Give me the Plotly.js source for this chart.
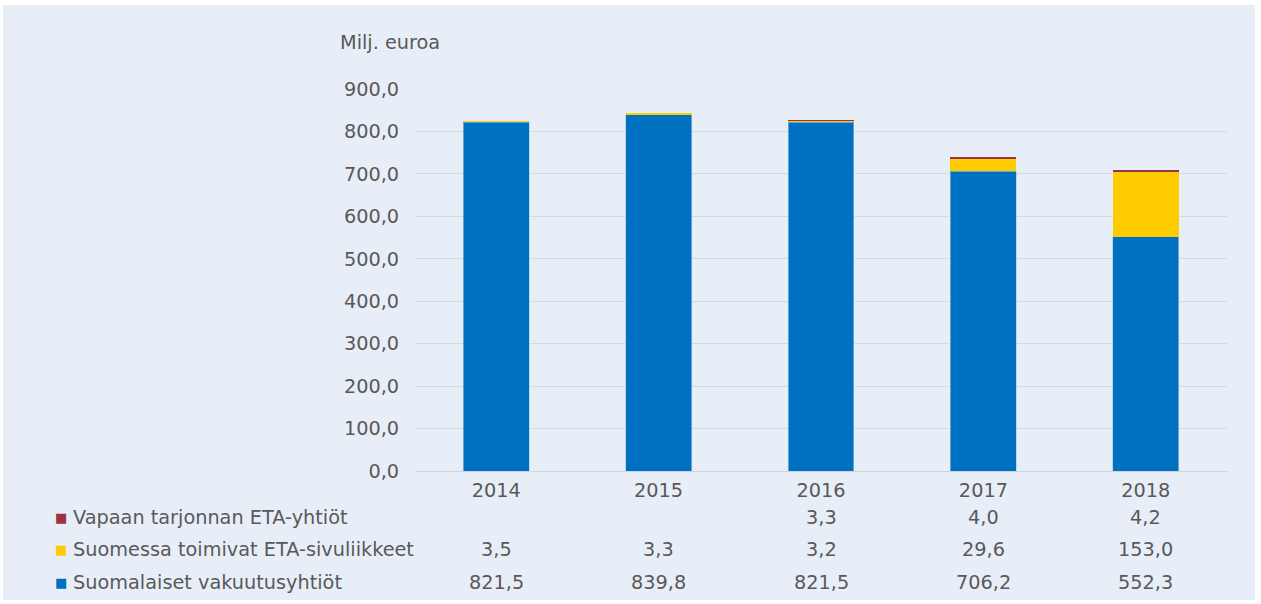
<!DOCTYPE html>
<html>
<head>
<meta charset="utf-8">
<script src="https://cdn.plot.ly/plotly-3.0.1.min.js"></script>
<style>
  html, body { margin: 0; padding: 0; background: #ffffff; }
  #chart { position: absolute; left: 3px; top: 5px; width: 1252px; height: 595px; }
</style>
</head>
<body>
<div id="chart"></div>
<script>
// ---- data ----
const years = ["2014", "2015", "2016", "2017", "2018"];
const suomalaiset = [821.5, 839.8, 821.5, 706.2, 552.3];
const sivuliikkeet = [3.5, 3.3, 3.2, 29.6, 153.0];
const vapaan = [null, null, 3.3, 4.0, 4.2];
const seriesNames = ["Vapaan tarjonnan ETA-yhtiöt", "Suomessa toimivat ETA-sivuliikkeet", "Suomalaiset vakuutusyhtiöt"];
const yTitle = "Milj. euroa";

const colors = { blue: "#0070c0", yellow: "#ffcc00", red: "#9b3342" };
const textColor = "#595959";
const fontFam = "DejaVu Sans, Verdana, sans-serif";
const fs = 19.3;

const edge = { color: "rgba(160,200,235,0.6)", width: 1 };
const traces = [
  { type: "bar", name: seriesNames[2], x: years, y: suomalaiset, width: 0.406, marker: { color: colors.blue, line: edge } },
  { type: "bar", name: seriesNames[1], x: years, y: sivuliikkeet, width: 0.406, marker: { color: colors.yellow, line: { width: 0 } } },
  { type: "bar", name: seriesNames[0], x: years, y: vapaan, width: 0.406, marker: { color: colors.red, line: { width: 0 } } }
];

function fmt(v) { return v == null ? "" : v.toFixed(1).replace(".", ","); }

const rows = [
  { vals: vapaan, name: seriesNames[0], color: colors.red, shift: -46 },
  { vals: sivuliikkeet, name: seriesNames[1], color: colors.yellow, shift: -78 },
  { vals: suomalaiset, name: seriesNames[2], color: colors.blue, shift: -111 }
];

const annotations = [];
const plotW = 1252 - 412 - 28;
rows.forEach(r => {
  years.forEach((yr, i) => {
    if (r.vals[i] == null) return;
    annotations.push({ xref: "x", yref: "paper", x: i, y: 0, yshift: r.shift, yanchor: "middle", xanchor: "center",
      text: fmt(r.vals[i]), showarrow: false, font: { family: fontFam, size: fs, color: textColor } });
  });
  annotations.push({ xref: "paper", yref: "paper", x: (71 - 415) / plotW, y: 0, yshift: r.shift, yanchor: "middle", xanchor: "left",
    text: r.name, showarrow: false, font: { family: fontFam, size: fs, color: textColor } });
  annotations.push({ xref: "paper", yref: "paper", x: (61 - 415) / plotW, y: 0, yshift: r.shift, yanchor: "middle", xanchor: "center",
    text: "■", showarrow: false, font: { family: "DejaVu Sans", size: 13, color: r.color } });
});
annotations.push({ xref: "paper", yref: "paper", x: (338 - 415) / plotW, y: 1, yshift: 47, yanchor: "middle", xanchor: "left",
  text: yTitle, showarrow: false, font: { family: fontFam, size: fs, color: textColor } });

const layout = {
  barmode: "stack",
  showlegend: false,
  separators: ", ",
  paper_bgcolor: "#e8eef7",
  plot_bgcolor: "#e8eef7",
  margin: { l: 412, r: 28, t: 84, b: 129 },
  font: { family: fontFam, size: fs, color: textColor },
  xaxis: {
    type: "category",
    range: [-0.5, 4.5],
    showgrid: false,
    showline: true, linecolor: "#d0d4da", linewidth: 1,
    ticks: "outside", ticklen: 2, tickcolor: "rgba(0,0,0,0)",
    tickfont: { family: fontFam, size: fs, color: textColor }
  },
  yaxis: {
    range: [0, 900],
    dtick: 100,
    tickformat: ".1f",
    showgrid: true, gridcolor: "#d6d9de", gridwidth: 1,
    zeroline: false,
    showline: false,
    ticks: "outside", ticklen: 11, tickcolor: "rgba(0,0,0,0)",
    tickfont: { family: fontFam, size: fs, color: textColor }
  },
  annotations: annotations
};

Plotly.newPlot("chart", traces, layout, { displayModeBar: false, staticPlot: true });
</script>
</body>
</html>
